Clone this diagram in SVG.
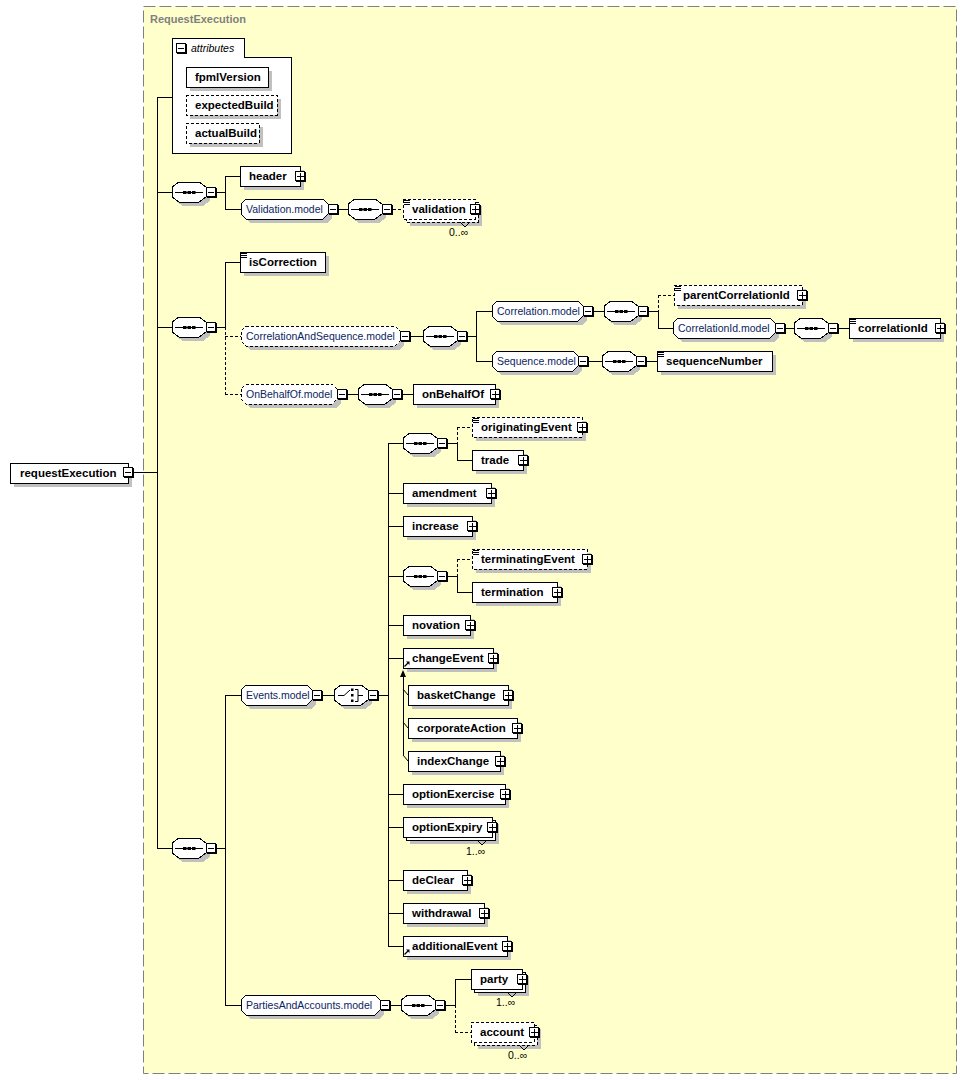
<svg xmlns="http://www.w3.org/2000/svg" width="968" height="1080" viewBox="0 0 968 1080">
<style>
.sh{fill:#c0c0c0;shape-rendering:crispEdges}
.bx{fill:#fff;stroke:#000;shape-rendering:crispEdges}
.ds{stroke-dasharray:3 2}
.t{font-family:"Liberation Sans",Arial,sans-serif;font-size:11.5px;font-weight:bold;fill:#000}
.m{font-family:"Liberation Sans",Arial,sans-serif;font-size:10.5px;fill:#0c2460}
.q{font-family:"Liberation Sans",Arial,sans-serif;font-size:10.5px;fill:#000}
.c{fill:none;stroke:#000;shape-rendering:crispEdges}
</style>
<defs>
<g id="minus"><rect x="1" y="1" width="10" height="10" fill="#000"/><rect x="0.5" y="0.5" width="9" height="9" fill="#fff" stroke="#000"/><path d="M2 5.5H8" stroke="#000"/></g>
<g id="plus"><rect x="1" y="1" width="10" height="10" fill="#000"/><rect x="0.5" y="0.5" width="9" height="9" fill="#fff" stroke="#000"/><path d="M2 5.5H9M5.5 2V9" stroke="#000"/></g>
<g id="eq"><path d="M0 0.5H6M0 2.5H6M0 4.5H6" stroke="#000"/></g>
<g id="ref"><path d="M0.5 5.5L4 2" stroke="#000" stroke-width="1.3"/><path d="M2 0.5H5.5V4Z" fill="#000"/></g>
<g id="seq">
<path class="sh" d="M11 4H31L38 9V19L31 24H11L4 19V9Z"/>
<path class="bx" d="M7 0H27L34 5V15L27 20H7L0 15V5Z"/>
<path d="M3 10.5H31" stroke="#000"/>
<rect x="11" y="9" width="3.5" height="3"/><rect x="15.5" y="9" width="3.5" height="3"/><rect x="20" y="9" width="3.5" height="3"/>
<use href="#minus" x="34" y="5"/>
</g>
<g id="choice">
<path class="sh" d="M11 4H31L38 9V19L31 24H11L4 19V9Z"/>
<path class="bx" d="M7 0H27L34 5V15L27 20H7L0 15V5Z"/>
<path d="M4 10.5H10L16 5M21 4.5H24V16.5H21M24 10.5H29" stroke="#000" fill="none"/>
<rect x="17" y="3.5" width="2.5" height="2.5"/><rect x="17" y="9" width="2.5" height="2.5"/><rect x="17" y="14.5" width="2.5" height="2.5"/>
<use href="#minus" x="34" y="5"/>
</g>
</defs>

<rect x="143.5" y="6.5" width="813" height="1067" fill="#FFFFCC" stroke="#808080" stroke-dasharray="12 4"/>
<text x="150" y="23" font-family="Liberation Sans, Arial, sans-serif" font-size="11" font-weight="bold" fill="#808080">RequestExecution</text>

<g id="connectors">
<path class="c" d="M134 472H157M157 97V848M157 97H172M157 192H172M157 327H172M157 848H172"/>
<path class="c" d="M217 192H225M225 176V209M225 176H240M225 209H241M339 209H348"/>
<path class="c ds" d="M393 209H403"/>
<path class="c" d="M217 327H225M225 262V327M225 262H240"/>
<path class="c ds" d="M225 327V394M225 336H241M225 394H241"/>
<path class="c" d="M411 336H423M468 336H476M476 311V361M476 311H492M476 361H492"/>
<path class="c" d="M594 311H604M649 311H658M658 311V328M658 328H673M786 328H794M839 328H849"/>
<path class="c ds" d="M658 295V311M658 295H674"/>
<path class="c" d="M589 361H602M647 361H657"/>
<path class="c" d="M348 394H358M403 394H413"/>
<path class="c" d="M217 848H225M225 695V1005M225 695H241M225 1005H241M323 695H334M379 695H388M388 443V946"/>
<path class="c" d="M388 443H403M388 493H403M388 526H403M388 576H403M388 625H403M388 658H403M388 794H403M388 827H403M388 880H403M388 913H403M388 946H403"/>
<path class="c" d="M448 443H457M457 443V460M457 460H472M448 576H457M457 576V592M457 592H472"/>
<path class="c ds" d="M457 427V443M457 427H472M457 559V576M457 559H472"/>
<path class="c" d="M403 676V755"/>
<path d="M403 689L408 695M403 722L408 728M403 755L408 761" stroke="#000" fill="none"/>
<path d="M403 670L400 677H406Z" fill="#000"/>
<path class="c" d="M391 1005H401M446 1005H455M455 979V1005M455 979H471"/>
<path class="c ds" d="M455 1005V1032M455 1032H471"/>
</g>

<g id="n-requestExecution">
<rect class="sh" x="14" y="467" width="118" height="20"/>
<rect class="bx" x="10" y="463" width="118" height="20"/>
<text class="t" x="20" y="477">requestExecution</text>
<use href="#minus" x="123" y="467"/>
</g>

<g id="n-attributes">
<path class="bx" d="M172 57V38H244V57H291V153H172Z"/>
<use href="#minus" x="176" y="43"/>
<text x="191" y="52" font-family="Liberation Sans, Arial, sans-serif" font-size="10.5" font-style="italic" fill="#000">attributes</text>
<g id="n-fpmlVersion">
<rect class="sh" x="190" y="71" width="82" height="20"/>
<rect class="bx" x="186" y="67" width="82" height="20"/>
<text class="t" x="195" y="81">fpmlVersion</text>
</g>
<g id="n-expectedBuild">
<rect class="sh" x="190" y="99" width="91" height="20"/>
<rect class="bx ds" x="186" y="95" width="91" height="20"/>
<text class="t" x="195" y="109">expectedBuild</text>
</g>
<g id="n-actualBuild">
<rect class="sh" x="190" y="127" width="73" height="20"/>
<rect class="bx ds" x="186" y="123" width="73" height="20"/>
<text class="t" x="195" y="137">actualBuild</text>
</g>
</g>

<g id="n-seq1"><use href="#seq" x="172" y="182"/></g>
<g id="n-seq2"><use href="#seq" x="172" y="317"/></g>
<g id="n-seq3"><use href="#seq" x="172" y="838"/></g>

<g id="n-header">
<rect class="sh" x="244" y="170" width="60" height="20"/>
<rect class="bx" x="240" y="166" width="60" height="20"/>
<text class="t" x="249" y="180">header</text>
<use href="#plus" x="295" y="171"/>
</g>

<g id="n-ValidationModel">
<path class="sh" d="M250 203H327L332 208V218L327 223H250L245 218V208Z"/>
<path class="bx" d="M246 199H323L328 204V214L323 219H246L241 214V204Z"/>
<text class="m" x="246" y="213">Validation.model</text>
<use href="#minus" x="328" y="204"/>
</g>
<g id="n-valseq"><use href="#seq" x="348" y="199"/></g>
<g id="n-validation">
<rect class="sh" x="410" y="206" width="72" height="20"/>
<rect class="bx ds" x="406" y="202" width="72" height="20"/>
<rect class="bx ds" x="403" y="199" width="72" height="20"/>
<use href="#eq" x="404" y="200"/>
<text class="t" x="412" y="213">validation</text>
<use href="#plus" x="470" y="204"/>
<path d="M460 222L465 227L470 222" stroke="#000" fill="none"/>
<text class="q" x="449" y="236">0..∞</text>
</g>

<g id="n-isCorrection">
<rect class="sh" x="244" y="256" width="85" height="20"/>
<rect class="bx" x="240" y="252" width="85" height="20"/>
<use href="#eq" x="241" y="253"/>
<text class="t" x="249" y="266">isCorrection</text>
</g>

<g id="n-CorrelationAndSequenceModel">
<path class="sh" d="M250 330H399L404 335V345L399 350H250L245 345V335Z"/>
<path class="bx ds" d="M246 326H395L400 331V341L395 346H246L241 341V331Z"/>
<text class="m" x="246" y="340">CorrelationAndSequence.model</text>
<use href="#minus" x="400" y="331"/>
</g>
<g id="n-casseq"><use href="#seq" x="423" y="326"/></g>

<g id="n-CorrelationModel">
<path class="sh" d="M501 305H582L587 310V320L582 325H501L496 320V310Z"/>
<path class="bx" d="M497 301H578L583 306V316L578 321H497L492 316V306Z"/>
<text class="m" x="497" y="315">Correlation.model</text>
<use href="#minus" x="583" y="306"/>
</g>
<g id="n-corrseq"><use href="#seq" x="604" y="301"/></g>
<g id="n-parentCorrelationId">
<rect class="sh" x="678" y="289" width="128" height="20"/>
<rect class="bx ds" x="674" y="285" width="128" height="20"/>
<use href="#eq" x="675" y="286"/>
<text class="t" x="683" y="299">parentCorrelationId</text>
<use href="#plus" x="797" y="290"/>
</g>
<g id="n-CorrelationIdModel">
<path class="sh" d="M682 322H774L779 327V337L774 342H682L677 337V327Z"/>
<path class="bx" d="M678 318H770L775 323V333L770 338H678L673 333V323Z"/>
<text class="m" x="678" y="332">CorrelationId.model</text>
<use href="#minus" x="775" y="323"/>
</g>
<g id="n-corridseq"><use href="#seq" x="794" y="318"/></g>
<g id="n-correlationId">
<rect class="sh" x="853" y="322" width="91" height="20"/>
<rect class="bx" x="849" y="318" width="91" height="20"/>
<use href="#eq" x="850" y="319"/>
<text class="t" x="858" y="332">correlationId</text>
<use href="#plus" x="935" y="323"/>
</g>

<g id="n-SequenceModel">
<path class="sh" d="M501 355H577L582 360V370L577 375H501L496 370V360Z"/>
<path class="bx" d="M497 351H573L578 356V366L573 371H497L492 366V356Z"/>
<text class="m" x="497" y="365">Sequence.model</text>
<use href="#minus" x="578" y="356"/>
</g>
<g id="n-seqmseq"><use href="#seq" x="602" y="351"/></g>
<g id="n-sequenceNumber">
<rect class="sh" x="661" y="355" width="115" height="20"/>
<rect class="bx" x="657" y="351" width="115" height="20"/>
<use href="#eq" x="658" y="352"/>
<text class="t" x="666" y="365">sequenceNumber</text>
</g>

<g id="n-OnBehalfOfModel">
<path class="sh" d="M250 388H336L341 393V403L336 408H250L245 403V393Z"/>
<path class="bx ds" d="M246 384H332L337 389V399L332 404H246L241 399V389Z"/>
<text class="m" x="246" y="398">OnBehalfOf.model</text>
<use href="#minus" x="337" y="389"/>
</g>
<g id="n-obseq"><use href="#seq" x="358" y="384"/></g>
<g id="n-onBehalfOf">
<rect class="sh" x="417" y="388" width="82" height="20"/>
<rect class="bx" x="413" y="384" width="82" height="20"/>
<text class="t" x="422" y="398">onBehalfOf</text>
<use href="#plus" x="490" y="389"/>
</g>

<g id="n-EventsModel">
<path class="sh" d="M250 689H311L316 694V704L311 709H250L245 704V694Z"/>
<path class="bx" d="M246 685H307L312 690V700L307 705H246L241 700V690Z"/>
<text class="m" x="246" y="699">Events.model</text>
<use href="#minus" x="312" y="690"/>
</g>
<g id="n-choice"><use href="#choice" x="334" y="685"/></g>

<g id="n-evseqA"><use href="#seq" x="403" y="433"/></g>
<g id="n-originatingEvent">
<rect class="sh" x="476" y="421" width="110" height="20"/>
<rect class="bx ds" x="472" y="417" width="110" height="20"/>
<use href="#eq" x="473" y="418"/>
<text class="t" x="481" y="431">originatingEvent</text>
<use href="#plus" x="577" y="422"/>
</g>
<g id="n-trade">
<rect class="sh" x="476" y="454" width="51" height="20"/>
<rect class="bx" x="472" y="450" width="51" height="20"/>
<text class="t" x="481" y="464">trade</text>
<use href="#plus" x="518" y="455"/>
</g>
<g id="n-amendment">
<rect class="sh" x="407" y="487" width="88" height="20"/>
<rect class="bx" x="403" y="483" width="88" height="20"/>
<text class="t" x="412" y="497">amendment</text>
<use href="#plus" x="486" y="488"/>
</g>
<g id="n-increase">
<rect class="sh" x="407" y="520" width="69" height="20"/>
<rect class="bx" x="403" y="516" width="69" height="20"/>
<text class="t" x="412" y="530">increase</text>
<use href="#plus" x="467" y="521"/>
</g>
<g id="n-evseqB"><use href="#seq" x="403" y="566"/></g>
<g id="n-terminatingEvent">
<rect class="sh" x="476" y="553" width="115" height="20"/>
<rect class="bx ds" x="472" y="549" width="115" height="20"/>
<use href="#eq" x="473" y="550"/>
<text class="t" x="481" y="563">terminatingEvent</text>
<use href="#plus" x="582" y="554"/>
</g>
<g id="n-termination">
<rect class="sh" x="476" y="586" width="85" height="20"/>
<rect class="bx" x="472" y="582" width="85" height="20"/>
<text class="t" x="481" y="596">termination</text>
<use href="#plus" x="552" y="587"/>
</g>
<g id="n-novation">
<rect class="sh" x="407" y="619" width="67" height="20"/>
<rect class="bx" x="403" y="615" width="67" height="20"/>
<text class="t" x="412" y="629">novation</text>
<use href="#plus" x="465" y="620"/>
</g>
<g id="n-changeEvent">
<rect class="sh" x="407" y="652" width="90" height="20"/>
<rect class="bx" x="403" y="648" width="90" height="20"/>
<text class="t" x="412" y="662">changeEvent</text>
<use href="#ref" x="404" y="661"/>
<use href="#plus" x="488" y="653"/>
</g>
<g id="n-basketChange">
<rect class="sh" x="412" y="689" width="100" height="20"/>
<rect class="bx" x="408" y="685" width="100" height="20"/>
<text class="t" x="417" y="699">basketChange</text>
<use href="#plus" x="503" y="690"/>
</g>
<g id="n-corporateAction">
<rect class="sh" x="412" y="722" width="109" height="20"/>
<rect class="bx" x="408" y="718" width="109" height="20"/>
<text class="t" x="417" y="732">corporateAction</text>
<use href="#plus" x="512" y="723"/>
</g>
<g id="n-indexChange">
<rect class="sh" x="412" y="755" width="92" height="20"/>
<rect class="bx" x="408" y="751" width="92" height="20"/>
<text class="t" x="417" y="765">indexChange</text>
<use href="#plus" x="495" y="756"/>
</g>
<g id="n-optionExercise">
<rect class="sh" x="407" y="788" width="102" height="20"/>
<rect class="bx" x="403" y="784" width="102" height="20"/>
<text class="t" x="412" y="798">optionExercise</text>
<use href="#plus" x="500" y="789"/>
</g>
<g id="n-optionExpiry">
<rect class="sh" x="410" y="824" width="89" height="20"/>
<rect class="bx" x="406" y="820" width="89" height="20"/>
<rect class="bx" x="403" y="817" width="89" height="20"/>
<text class="t" x="412" y="831">optionExpiry</text>
<use href="#plus" x="487" y="822"/>
<path d="M477 840L482 845L487 840" stroke="#000" fill="none"/>
<text class="q" x="466" y="855">1..∞</text>
</g>
<g id="n-deClear">
<rect class="sh" x="407" y="874" width="64" height="20"/>
<rect class="bx" x="403" y="870" width="64" height="20"/>
<text class="t" x="412" y="884">deClear</text>
<use href="#plus" x="462" y="875"/>
</g>
<g id="n-withdrawal">
<rect class="sh" x="407" y="907" width="81" height="20"/>
<rect class="bx" x="403" y="903" width="81" height="20"/>
<text class="t" x="412" y="917">withdrawal</text>
<use href="#plus" x="479" y="908"/>
</g>
<g id="n-additionalEvent">
<rect class="sh" x="407" y="940" width="104" height="20"/>
<rect class="bx" x="403" y="936" width="104" height="20"/>
<text class="t" x="412" y="950">additionalEvent</text>
<use href="#ref" x="404" y="949"/>
<use href="#plus" x="502" y="941"/>
</g>

<g id="n-PartiesAndAccountsModel">
<path class="sh" d="M250 999H379L384 1004V1014L379 1019H250L245 1014V1004Z"/>
<path class="bx" d="M246 995H375L380 1000V1010L375 1015H246L241 1010V1000Z"/>
<text class="m" x="246" y="1009">PartiesAndAccounts.model</text>
<use href="#minus" x="380" y="1000"/>
</g>
<g id="n-paaseq"><use href="#seq" x="401" y="995"/></g>
<g id="n-party">
<rect class="sh" x="478" y="976" width="51" height="20"/>
<rect class="bx" x="474" y="972" width="51" height="20"/>
<rect class="bx" x="471" y="969" width="51" height="20"/>
<text class="t" x="480" y="983">party</text>
<use href="#plus" x="517" y="974"/>
<path d="M507 992L512 997L517 992" stroke="#000" fill="none"/>
<text class="q" x="496" y="1006">1..∞</text>
</g>
<g id="n-account">
<rect class="sh" x="478" y="1029" width="63" height="20"/>
<rect class="bx ds" x="474" y="1025" width="63" height="20"/>
<rect class="bx ds" x="471" y="1022" width="63" height="20"/>
<text class="t" x="480" y="1036">account</text>
<use href="#plus" x="529" y="1027"/>
<path d="M519 1045L524 1050L529 1045" stroke="#000" fill="none"/>
<text class="q" x="508" y="1059">0..∞</text>
</g>
</svg>
